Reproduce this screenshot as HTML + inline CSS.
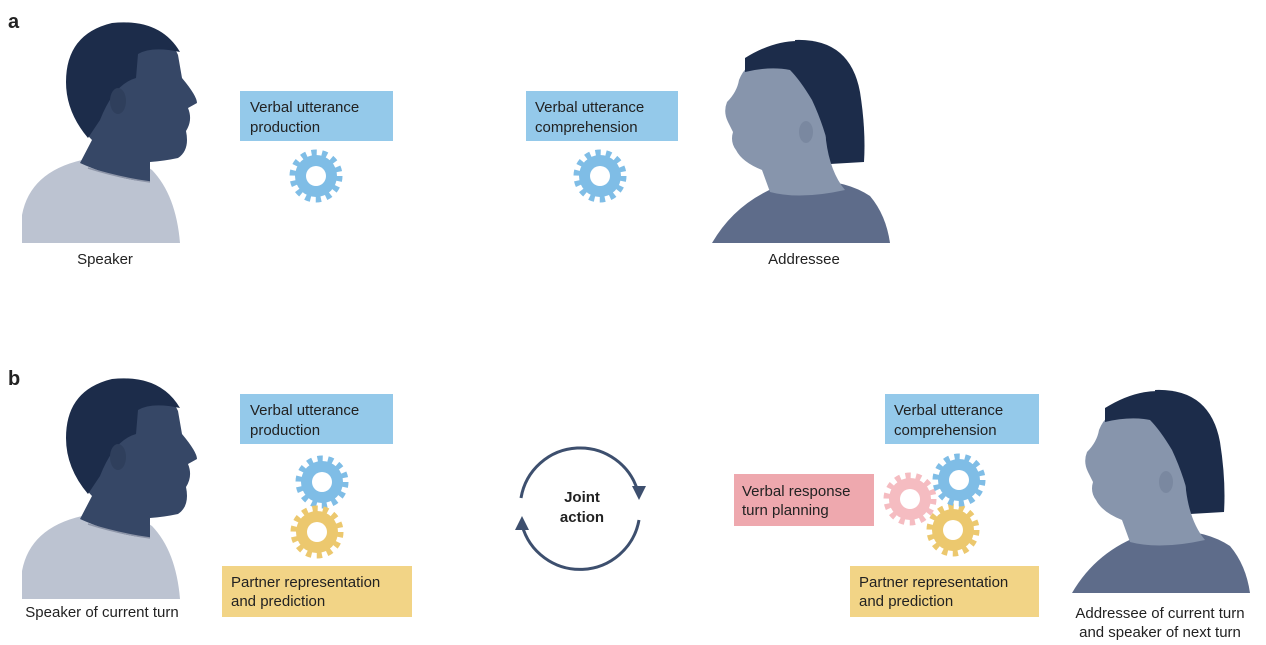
<!DOCTYPE html>
<html><head><meta charset="utf-8"><style>
body{margin:0;background:#fff;}
svg{display:block;font-family:"Liberation Sans",sans-serif;}
</style></head><body>
<svg width="1266" height="645" viewBox="0 0 1266 645" xmlns="http://www.w3.org/2000/svg">
<defs>
<g id="man">
  <path d="M22,243 L22,215 Q30,172 82,160 Q125,150 152,170 Q176,195 180,243 Z" fill="#bcc3d1"/>
  <path d="M80,163 L92,140 Q70,118 68,88 Q66,38 112,24 Q162,18 178,55 L182,78 Q197,96 197,103 L188,108 Q193,120 186,131 Q190,150 178,158 Q164,161 150,162 L150,182 Q118,180 80,163 Z" fill="#364766"/>
  <path d="M88,138 Q66,112 66,82 Q66,34 112,23 Q160,18 180,52 Q152,46 138,54 L136,78 Q114,84 100,120 Z" fill="#1c2c4a"/>
  <ellipse cx="118" cy="101" rx="8" ry="13" fill="#2f3f5c"/>
  <path d="M88,168 Q120,178 150,182" stroke="#8d95a8" fill="none" stroke-width="1.5"/>
</g>
<g id="woman">
  <path d="M795,40 Q850,38 860,92 Q866,130 864,162 L830,164 L800,130 Z" fill="#1c2c4a"/>
  <path d="M712,243 Q738,198 790,182 Q840,176 870,196 Q886,215 890,243 Z" fill="#5e6c8a"/>
  <path d="M765,58 Q800,44 822,72 L826,140 Q830,172 845,190 Q800,200 770,192 L762,170 Q742,162 736,150 Q730,142 733,132 L728,122 Q723,112 727,102 Q737,92 739,80 Q746,62 765,58 Z" fill="#8795ac"/>
  <path d="M745,58 Q790,30 830,48 Q862,70 862,120 Q864,150 862,162 L832,162 Q826,130 812,100 Q800,80 790,70 Q770,66 745,72 Z" fill="#1c2c4a"/>
  <ellipse cx="806" cy="132" rx="7" ry="11" fill="#7a88a0"/>
</g>
<g id="gear">
  <circle r="23.5" fill="none" stroke="currentColor" stroke-width="6" stroke-dasharray="5.3 5.3"/>
  <circle r="21" fill="currentColor"/>
  <circle r="10" fill="#fff"/>
</g>
</defs>

<text x="8" y="28" font-size="20" font-weight="bold" fill="#222">a</text>
<text x="8" y="385" font-size="20" font-weight="bold" fill="#222">b</text>

<use href="#man"/>
<use href="#man" transform="translate(0,356)"/>
<use href="#woman"/>
<use href="#woman" transform="translate(360,350)"/>

<g font-size="15" fill="#222">
<rect x="240" y="91" width="153" height="50" fill="#94c9ea"/>
<text x="250" y="112">Verbal utterance</text><text x="250" y="132">production</text>
<rect x="526" y="91" width="152" height="50" fill="#94c9ea"/>
<text x="535" y="112">Verbal utterance</text><text x="535" y="132">comprehension</text>
<text x="105" y="264" text-anchor="middle">Speaker</text>
<text x="804" y="264" text-anchor="middle">Addressee</text>

<rect x="240" y="394" width="153" height="50" fill="#94c9ea"/>
<text x="250" y="415">Verbal utterance</text><text x="250" y="435">production</text>
<rect x="222" y="566" width="190" height="51" fill="#f2d486"/>
<text x="231" y="587">Partner representation</text><text x="231" y="606">and prediction</text>
<text x="102" y="617" text-anchor="middle">Speaker of current turn</text>

<rect x="885" y="394" width="154" height="50" fill="#94c9ea"/>
<text x="894" y="415">Verbal utterance</text><text x="894" y="435">comprehension</text>
<rect x="734" y="474" width="140" height="52" fill="#eea8ae"/>
<text x="742" y="496">Verbal response</text><text x="742" y="515">turn planning</text>
<rect x="850" y="566" width="189" height="51" fill="#f2d486"/>
<text x="859" y="587">Partner representation</text><text x="859" y="606">and prediction</text>
<text x="1160" y="618" text-anchor="middle">Addressee of current turn</text>
<text x="1160" y="637" text-anchor="middle">and speaker of next turn</text>
</g>

<g color="#7fbde6"><use href="#gear" x="316" y="176"/><use href="#gear" x="600" y="176"/><use href="#gear" x="322" y="482"/></g>
<g color="#ecc86e"><use href="#gear" x="317" y="532"/><use href="#gear" x="953" y="530"/></g>
<g color="#f5bcc1"><use href="#gear" x="910" y="499"/></g>
<g color="#7fbde6"><use href="#gear" x="959" y="480"/></g>

<g fill="none" stroke="#3d4f6e" stroke-width="3">
<path d="M521,498 A60,60 0 0 1 638,492"/>
<path d="M639,520 A60,60 0 0 1 522,525"/>
</g>
<path d="M632,486 L646,486 L639,500 Z" fill="#3d4f6e"/>
<path d="M515,530 L529,530 L522,516 Z" fill="#3d4f6e"/>
<text x="582" y="502" font-size="15" font-weight="bold" text-anchor="middle" fill="#222">Joint</text>
<text x="582" y="522" font-size="15" font-weight="bold" text-anchor="middle" fill="#222">action</text>
</svg>
</body></html>
